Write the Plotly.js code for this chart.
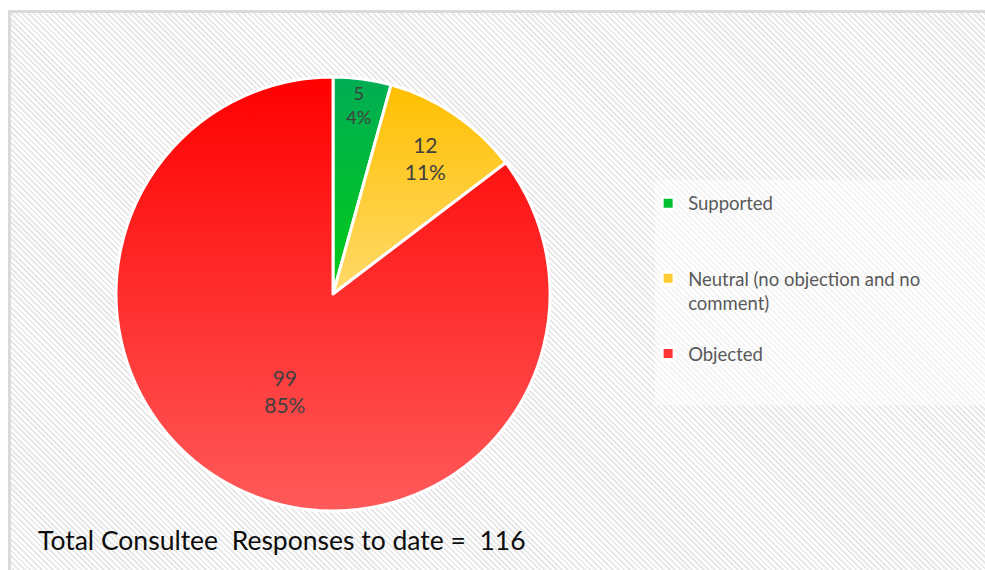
<!DOCTYPE html>
<html>
<head>
<meta charset="utf-8">
<script src="https://cdn.plot.ly/plotly-3.0.1.min.js"></script>
<style>
  html, body { margin: 0; padding: 0; background: #ffffff; }
  #frame {
    position: absolute; left: 8px; top: 10px; width: 985px; height: 570px;
    border-left: 3px solid #dadada; border-top: 3px solid #dadada;
    background: repeating-linear-gradient(45deg, #ffffff 0px, #ffffff 2px, #e9e9e9 2px, #e9e9e9 4px);
  }
  #chart { position: absolute; left: 0; top: 0; width: 985px; height: 570px; }
</style>
</head>
<body>
<div id="frame"></div>
<div id="chart"></div>
<script>
const categories = ["Supported<br> <br> ", "Neutral (no objection and no<br>comment)<br> ", "Objected"];
const responses = [5, 12, 99];
const percentLabels = ["4%", "11%", "85%"];
const sliceColors = ["#00c030", "#ffcc33", "#ff3434"];
const gradientStops = [["#00ad55", "#00cc14"], ["#ffbf00", "#ffda6a"], ["#ff0000", "#ff5a5a"]];
const totalText = "Total Consultee  Responses to date =  116";

const trace = {
  type: "pie",
  labels: categories,
  values: responses,
  text: percentLabels,
  texttemplate: "%{value}<br>%{text}",
  textposition: "inside",
  insidetextorientation: "horizontal",
  insidetextfont: { family: "Lato, 'Open Sans', sans-serif", size: 21, color: "#404040" },
  sort: false,
  direction: "clockwise",
  rotation: 0,
  marker: { colors: sliceColors, line: { color: "#ffffff", width: 3 } },
  hoverinfo: "value+percent",
  domain: { x: [0.1178, 0.5584], y: [0.1035, 0.8649] }
};

const layout = {
  width: 985, height: 570,
  margin: { l: 0, r: 0, t: 0, b: 0 },
  paper_bgcolor: "rgba(0,0,0,0)",
  plot_bgcolor: "rgba(0,0,0,0)",
  font: { family: "Lato, 'Open Sans', sans-serif" },
  showlegend: true,
  legend: {
    x: 0.658, xanchor: "left", y: 0.676, yanchor: "top",
    font: { size: 18.5, color: "#595959" },
    bgcolor: "rgba(0,0,0,0)",
    valign: "top",
    itemclick: false, itemdoubleclick: false
  },
  shapes: [{
    type: "rect", xref: "paper", yref: "paper",
    x0: 0.665, x1: 1.0, y0: 0.289, y1: 0.684,
    fillcolor: "rgba(255,255,255,0.5)", line: { width: 0 }, layer: "below"
  }],
  annotations: [{
    text: totalText, xref: "paper", yref: "paper",
    x: 0.037, xanchor: "left", y: 0.052, yanchor: "middle",
    showarrow: false,
    font: { size: 26.5, color: "#0d0d0d", family: "Lato, 'Open Sans', sans-serif" }
  }]
};

function applyGradients(gd) {
  const svg = gd.querySelector(".main-svg");
  const NS = "http://www.w3.org/2000/svg";
  let defs = svg.querySelector("defs");
  if (!defs) { defs = document.createElementNS(NS, "defs"); svg.insertBefore(defs, svg.firstChild); }
  gradientStops.forEach((stops, i) => {
    const id = "sliceGrad" + i;
    if (!defs.querySelector("#" + id)) {
      const g = document.createElementNS(NS, "linearGradient");
      g.setAttribute("id", id);
      g.setAttribute("x1", "0"); g.setAttribute("y1", "0");
      g.setAttribute("x2", "0"); g.setAttribute("y2", "1");
      stops.forEach((c, k) => {
        const s = document.createElementNS(NS, "stop");
        s.setAttribute("offset", k === 0 ? "0" : "1");
        s.setAttribute("stop-color", c);
        g.appendChild(s);
      });
      defs.appendChild(g);
    }
  });
  const paths = gd.querySelectorAll(".pielayer .slice path.surface");
  paths.forEach((p, i) => { if (i < gradientStops.length) p.style.fill = "url(#sliceGrad" + i + ")"; });
}

Plotly.newPlot("chart", [trace], layout, { displayModeBar: false, staticPlot: true })
  .then(gd => applyGradients(gd));
</script>
</body>
</html>
